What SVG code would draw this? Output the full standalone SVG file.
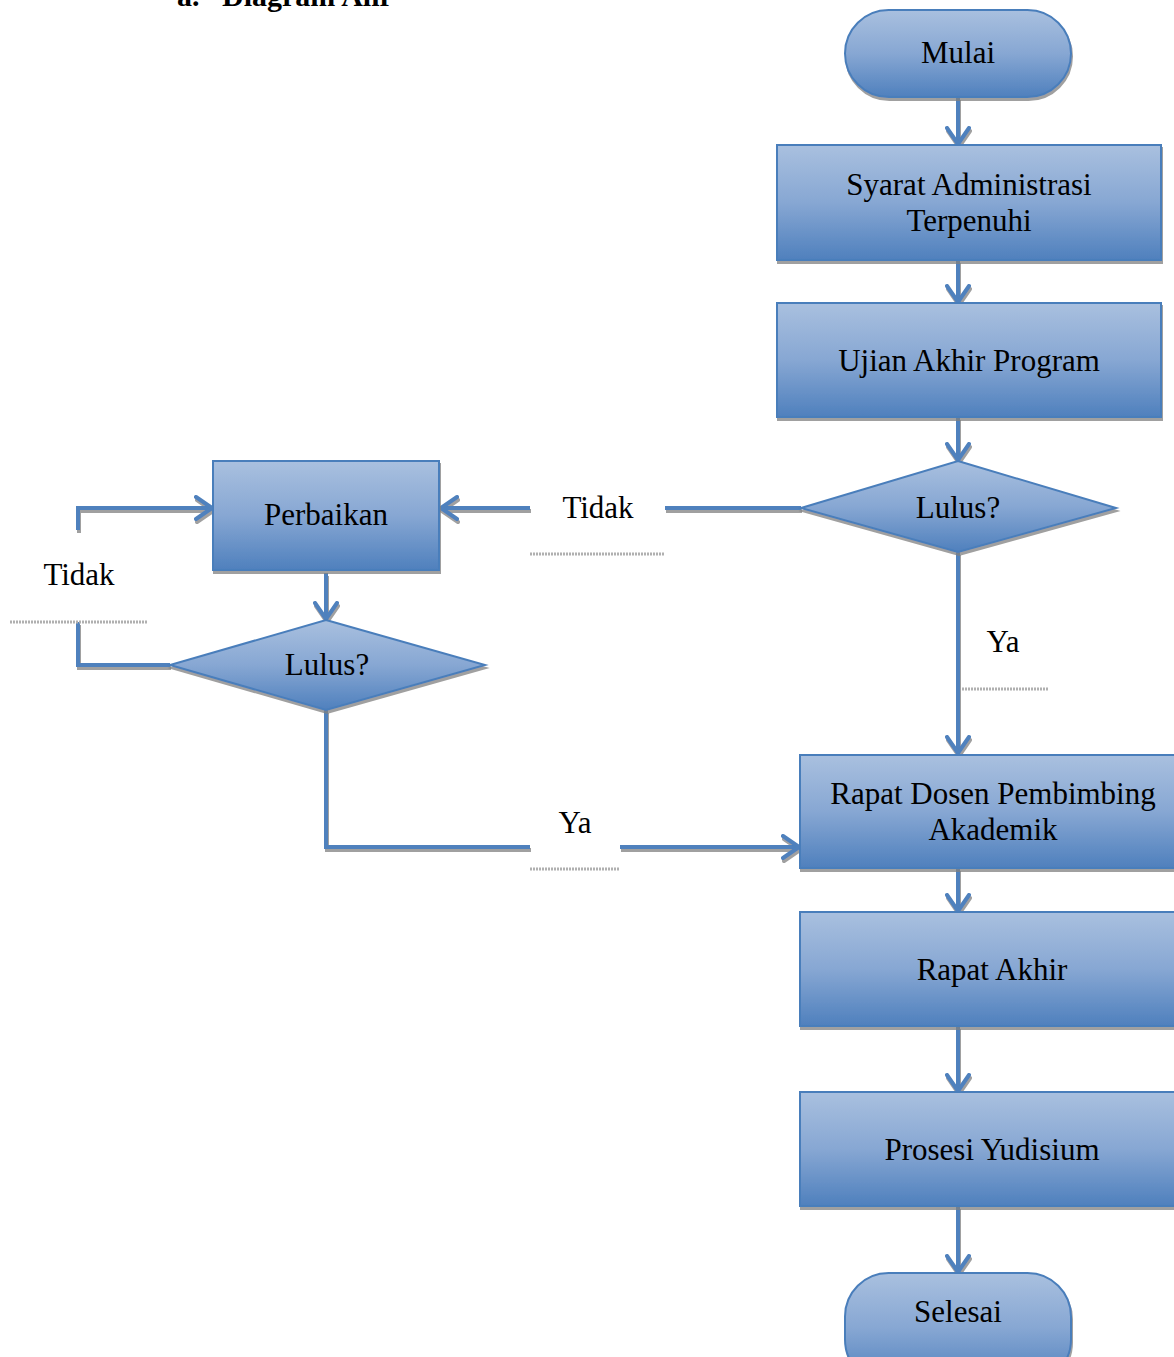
<svg xmlns="http://www.w3.org/2000/svg" width="1174" height="1357" viewBox="0 0 1174 1357">
<defs>
<linearGradient id="g" x1="0" y1="0" x2="0" y2="1">
<stop offset="0" stop-color="#a9c0df"/>
<stop offset="0.5" stop-color="#87a7d3"/>
<stop offset="1" stop-color="#4f80bd"/>
</linearGradient>
<filter id="sh" filterUnits="userSpaceOnUse" x="-20" y="-20" width="1220" height="1420">
<feDropShadow dx="1" dy="3" stdDeviation="0.6" flood-color="#808080" flood-opacity="0.75"/>
</filter>
<marker id="ah" viewBox="0 0 20 26" refX="18" refY="13" markerWidth="20" markerHeight="26" markerUnits="userSpaceOnUse" orient="auto">
<path d="M2,2 L18,13 L2,24" fill="none" stroke="#4f81bd" stroke-width="4" stroke-linecap="round" stroke-linejoin="round"/>
</marker>
</defs>
<style>
.n{fill:url(#g);stroke:#4a7ebb;stroke-width:2;filter:url(#sh)}
.t{font-family:"Liberation Serif","Times New Roman",serif;font-size:31px;fill:#000;text-anchor:middle}
.c{fill:none;stroke:#4f81bd;stroke-width:4;filter:url(#sh)}
.a{marker-end:url(#ah)}
.lb{font-family:"Liberation Serif","Times New Roman",serif;font-size:31px;fill:#000;text-anchor:middle}
.u{stroke:#b0b0b0;stroke-width:3;stroke-dasharray:2 1}
.title{font-family:"Liberation Serif","Times New Roman",serif;font-size:30px;font-weight:bold;fill:#000}
</style>
<rect width="1174" height="1357" fill="#fff"/>
<text class="title" x="177" y="6">a.</text>
<text class="title" x="222" y="6">Diagram Alir</text>

<g id="connectors">
<path class="c a" d="M958,97 L958,144"/>
<path class="c a" d="M958,260 L958,302"/>
<path class="c a" d="M958,417 L958,460"/>
<path class="c" d="M801,508 L665,508"/>
<path class="c a" d="M530,508 L441,508"/>
<path class="c a" d="M326,573 L326,619"/>
<path class="c" d="M170,665 L78,665 L78,622"/>
<path class="c a" d="M78,530 L78,508 L212,508"/>
<path class="c a" d="M958,552 L958,753"/>
<path class="c" d="M326,710 L326,847 L530,847"/>
<path class="c a" d="M620,847 L799,847"/>
<path class="c a" d="M958,868 L958,911"/>
<path class="c a" d="M958,1026 L958,1091"/>
<path class="c a" d="M958,1206 L958,1272"/>
</g>

<g id="labels">
<text class="lb" x="598" y="518">Tidak</text>
<line class="u" x1="530" y1="554" x2="665" y2="554"/>
<text class="lb" x="79" y="585">Tidak</text>
<line class="u" x1="10" y1="622" x2="147" y2="622"/>
<text class="lb" x="1003" y="652">Ya</text>
<line class="u" x1="962" y1="689" x2="1048" y2="689"/>
<text class="lb" x="575" y="833">Ya</text>
<line class="u" x1="530" y1="869" x2="620" y2="869"/>
</g>

<g id="mulai">
<rect class="n" x="845" y="10" width="226" height="87" rx="43.5" ry="43.5"/>
<text class="t" x="958" y="63">Mulai</text>
</g>
<g id="syarat">
<rect class="n" x="777" y="145" width="384" height="115"/>
<text class="t" x="969" y="195">Syarat Administrasi</text>
<text class="t" x="969" y="231">Terpenuhi</text>
</g>
<g id="ujian">
<rect class="n" x="777" y="303" width="384" height="114"/>
<text class="t" x="969" y="371">Ujian Akhir Program</text>
</g>
<g id="lulus1">
<polygon class="n" points="958,461 1116,508 958,552 801,508"/>
<text class="t" x="958" y="518">Lulus?</text>
</g>
<g id="perbaikan">
<rect class="n" x="213" y="461" width="226" height="109"/>
<text class="t" x="326" y="525">Perbaikan</text>
</g>
<g id="lulus2">
<polygon class="n" points="326,620 485,665 326,710 170,665"/>
<text class="t" x="327" y="675">Lulus?</text>
</g>
<g id="rapat-dosen">
<rect class="n" x="800" y="755" width="380" height="113"/>
<text class="t" x="993" y="804">Rapat Dosen Pembimbing</text>
<text class="t" x="993" y="840">Akademik</text>
</g>
<g id="rapat-akhir">
<rect class="n" x="800" y="912" width="380" height="114"/>
<text class="t" x="992" y="980">Rapat Akhir</text>
</g>
<g id="prosesi">
<rect class="n" x="800" y="1092" width="380" height="114"/>
<text class="t" x="992" y="1160">Prosesi Yudisium</text>
</g>
<g id="selesai">
<rect class="n" x="845" y="1273" width="226" height="110" rx="43.5" ry="43.5"/>
<text class="t" x="958" y="1322">Selesai</text>
</g>
</svg>
